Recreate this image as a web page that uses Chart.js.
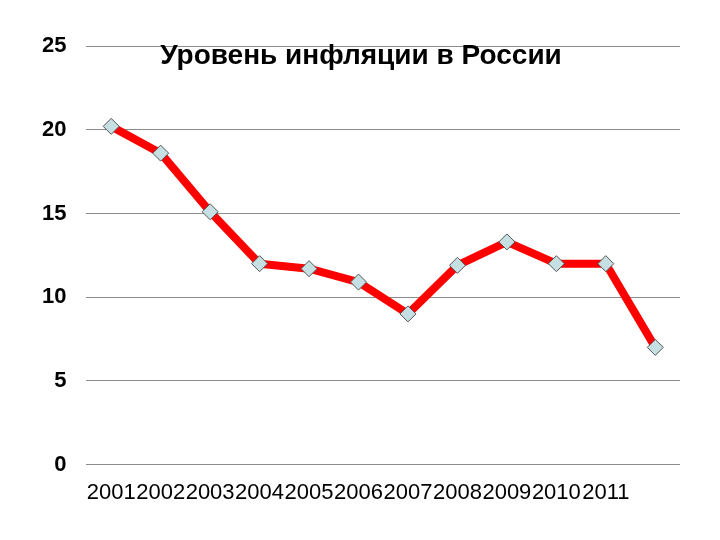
<!DOCTYPE html>
<html>
<head>
<meta charset="utf-8">
<script src="https://cdn.jsdelivr.net/npm/chart.js@4"></script>
<style>
    html, body { margin: 0; padding: 0; background: #fff; }
    #chart-wrap { width: 720px; height: 540px; }
</style>
</head>
<body>
<div id="chart-wrap"><canvas id="inflation-chart"></canvas></div>
<script>
// 12 points, only 11 labels on the axis (as in the source picture)
var years = ['2001', '2002', '2003', '2004', '2005', '2006', '2007', '2008', '2009', '2010', '2011', ''];
var inflation = [20.2, 18.6, 15.1, 12.0, 11.7, 10.9, 9.0, 11.9, 13.3, 12.0, 12.0, 7.0];
var yTicks = [0, 5, 10, 15, 20, 25];
var chartTitle = 'Уровень инфляции в России';

var inflationChart = {};

inflationChart.init = function () {
    inflationChart.createChart();
};

// title sits inside the plot area, so it is drawn by hand
inflationChart.titlePlugin = {
    id: 'innerTitle',
    afterDraw: function (chart) {
        const ctx = chart.ctx;
        ctx.save();
        ctx.font = 'bold 28px Arial, "Liberation Sans", sans-serif';
        ctx.fillStyle = '#000';
        ctx.textAlign = 'center';
        ctx.textBaseline = 'middle';
        ctx.fillText(chartTitle, 361, 56);
        ctx.restore();
    }
};

inflationChart.createChart = function () {
    const ctx = document.getElementById('inflation-chart');

    const config = {
        type: 'line',
        data: {
            labels: years,
            datasets: [{
                label: 'Инфляция',
                data: inflation,
                borderColor: '#ff0000',
                borderWidth: 8,
                borderJoinStyle: 'round',
                borderCapStyle: 'round',
                tension: 0,
                pointStyle: 'rectRot',
                pointRadius: 8,
                pointHoverRadius: 8,
                pointBackgroundColor: '#c6dfe2',
                pointBorderColor: '#555',
                pointBorderWidth: 1
            }]
        },
        options: {
            responsive: true,
            maintainAspectRatio: false,
            animation: false,
            layout: {
                padding: { top: 46, left: 22, right: 40, bottom: 27 }
            },
            plugins: {
                legend: { display: false },
                title: { display: false },
                tooltip: { enabled: false }
            },
            scales: {
                x: {
                    offset: true,
                    grid: { display: false },
                    border: { display: false },
                    ticks: {
                        autoSkip: false,
                        maxRotation: 0,
                        minRotation: 0,
                        padding: 7,
                        color: '#000',
                        font: { family: 'Arial, "Liberation Sans", sans-serif', size: 22 }
                    }
                },
                y: {
                    min: 0,
                    max: 25,
                    afterBuildTicks: function (axis) {
                        axis.ticks = yTicks.map(function (v) { return { value: v }; });
                    },
                    grid: { color: '#8c8c8c', lineWidth: 1, drawTicks: false },
                    border: { display: false },
                    ticks: {
                        padding: 20,
                        color: '#000',
                        font: { family: 'Arial, "Liberation Sans", sans-serif', size: 22, weight: 'bold' }
                    }
                }
            }
        },
        plugins: [inflationChart.titlePlugin]
    };

    inflationChart.chart = new Chart(ctx, config);
};

inflationChart.init();
</script>
</body>
</html>
